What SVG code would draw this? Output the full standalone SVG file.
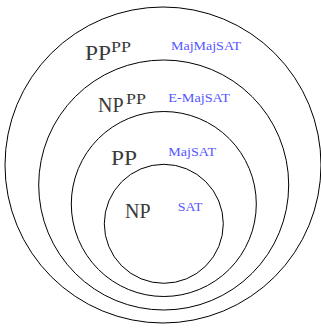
<svg xmlns="http://www.w3.org/2000/svg" width="321" height="329" viewBox="0 0 321 329" font-family="'Liberation Serif', 'Times New Roman', serif">
  <style>
    .ring { fill: none; stroke: #000; stroke-width: 1; }
    .cls { fill: #3a3a3a; font-size: 20px; font-family: 'Liberation Serif', serif; }
    .sup { font-size: 15px; }
    .prob { fill: #5555ff; font-size: 13.5px; font-family: 'Liberation Serif', serif; }
  </style>
  <rect width="321" height="329" fill="#fff"/>
  <g id="pp-pp">
    <circle class="ring" cx="163" cy="165" r="158"/>
    <text class="cls" x="85" y="60" textLength="26" lengthAdjust="spacingAndGlyphs">PP</text>
    <text class="cls sup" x="111" y="52" textLength="20" lengthAdjust="spacingAndGlyphs">PP</text>
    <text class="prob" x="171" y="50" textLength="70" lengthAdjust="spacingAndGlyphs">MajMajSAT</text>
  </g>
  <g id="np-pp">
    <circle class="ring" cx="163.7" cy="185" r="125"/>
    <text class="cls" x="98" y="112">NP</text>
    <text class="cls sup" x="126" y="104" textLength="20" lengthAdjust="spacingAndGlyphs">PP</text>
    <text class="prob" x="168.3" y="102.3" textLength="61.7" lengthAdjust="spacingAndGlyphs">E-MajSAT</text>
  </g>
  <g id="pp">
    <circle class="ring" cx="163.8" cy="204" r="92.5"/>
    <text class="cls" x="111" y="165" textLength="26" lengthAdjust="spacingAndGlyphs">PP</text>
    <text class="prob" x="168.3" y="155.7" textLength="47.7" lengthAdjust="spacingAndGlyphs">MajSAT</text>
  </g>
  <g id="np">
    <circle class="ring" cx="163.8" cy="223.8" r="59.5"/>
    <text class="cls" x="125" y="218.3">NP</text>
    <text class="prob" x="177.7" y="210.7" textLength="24.7" lengthAdjust="spacingAndGlyphs">SAT</text>
  </g>
</svg>
